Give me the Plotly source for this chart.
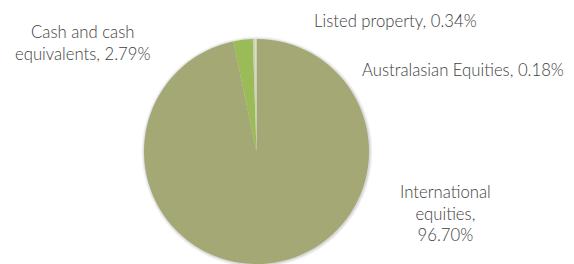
import plotly.graph_objects as go

W, H = 574, 264

labels = ["International equities", "Cash and cash equivalents", "Listed property", "Australasian Equities"]
values = [96.70, 2.79, 0.34, 0.18]
colors = ["#A4A874", "#9BBB59", "#C9D4AE", "#DCE4C8"]
label_lines = [
    ["International", "equities,", "{v:.2f}%"],
    ["Cash and cash", "equivalents, {v:.2f}%"],
    ["Listed property, {v:.2f}%"],
    ["Australasian Equities, {v:.2f}%"],
]
# label anchor positions in pixels (x, y from top) and alignment
label_pos = [(445, 213, "center"), (82, 43, "center"), (312, 21, "left"), (360, 70, "left")]

cx, cy, r = 256.5, 151.5, 112.5

def dom(cx, cy, r):
    return dict(x=[(cx - r) / W, (cx + r) / W], y=[(H - cy - r) / H, (H - cy + r) / H])

fig = go.Figure()
# soft shadow as circles beneath the pie
for dr, a in [(3, 0.04), (2, 0.05), (1, 0.07)]:
    fig.add_shape(type="circle", xref="paper", yref="paper", layer="below",
                  x0=(cx - r - dr + 0.5) / W, x1=(cx + r + dr + 0.5) / W,
                  y0=(H - cy - r - dr - 0.5) / H, y1=(H - cy + r + dr - 0.5) / H,
                  line=dict(width=0), fillcolor=f"rgba(0,0,0,{a})")
fig.add_trace(go.Pie(
    labels=labels, values=values, sort=False, direction="clockwise", rotation=0,
    marker=dict(colors=colors, line=dict(width=0)),
    textinfo="none", showlegend=False, domain=dom(cx, cy, r),
))

for lines, (px, py, al), v in zip(label_lines, label_pos, values):
    txt = "<br>".join(l.format(v=v) for l in lines)
    fig.add_annotation(x=px / W, y=1 - py / H, xref="paper", yref="paper", text=txt, showarrow=False,
                       xanchor="center" if al == "center" else "left", yanchor="middle", align=al,
                       font=dict(family="Lato", size=16.7, color="#404040", weight=300))

fig.update_layout(width=W, height=H, margin=dict(l=0, r=0, t=0, b=0),
                  paper_bgcolor="white", plot_bgcolor="white")
fig.write_html("out.html", config={"displayModeBar": False},
               post_script="document.body.style.margin='0';")
